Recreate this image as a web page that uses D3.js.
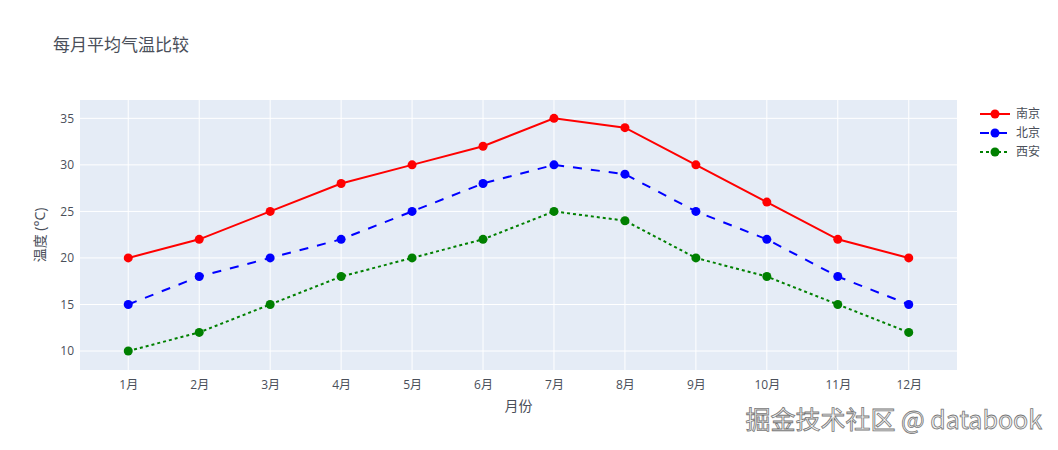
<!DOCTYPE html>
<html>
<head>
<meta charset="utf-8">
<script src="https://cdn.jsdelivr.net/npm/d3@7"></script>
<style>
  body { margin: 0; background: #fff; }
  svg { font-family: "Open Sans", "Noto Sans CJK SC", sans-serif; }
</style>
</head>
<body>
<div id="chart"></div>
<script>
// chart data
const months = ['1月', '2月', '3月', '4月', '5月', '6月', '7月', '8月', '9月', '10月', '11月', '12月'];
const nanjing = [20, 22, 25, 28, 30, 32, 35, 34, 30, 26, 22, 20];
const beijing = [15, 18, 20, 22, 25, 28, 30, 29, 25, 22, 18, 15];
const xian = [10, 12, 15, 18, 20, 22, 25, 24, 20, 18, 15, 12];
const yTicks = [10, 15, 20, 25, 30, 35];

const series = [
    { name: '南京', values: nanjing, color: 'red', dash: null },
    { name: '北京', values: beijing, color: 'blue', dash: '9,9' },
    { name: '西安', values: xian, color: 'green', dash: '3,3' }
];

const width = 1058;
const height = 450;
const margin = { top: 100, right: 101, bottom: 80, left: 80 };
const plotW = width - margin.left - margin.right;
const plotH = height - margin.top - margin.bottom;
const textColor = '#4a4f5a';

const svg = d3.select('#chart')
    .append('svg')
    .attr('width', width)
    .attr('height', height);

// title
svg.append('text')
    .attr('x', 53)
    .attr('y', 51)
    .attr('font-size', 17)
    .attr('fill', textColor)
    .text('每月平均气温比较');

const g = svg.append('g')
    .attr('transform', `translate(${margin.left}, ${margin.top})`);

g.append('rect')
    .attr('width', plotW)
    .attr('height', plotH)
    .attr('fill', '#E5ECF6');

// scales
const xScale = d3.scalePoint()
    .domain(months)
    .range([0, plotW])
    .padding(0.68);

const yScale = d3.scaleLinear()
    .domain([7.96, 36.97])
    .range([plotH, 0]);

// grid
g.selectAll('.x-grid')
    .data(months)
    .enter()
    .append('line')
    .attr('class', 'x-grid')
    .attr('x1', d => xScale(d))
    .attr('x2', d => xScale(d))
    .attr('y1', 0)
    .attr('y2', plotH)
    .attr('stroke', '#fff')
    .attr('stroke-width', 1);

g.selectAll('.y-grid')
    .data(yTicks)
    .enter()
    .append('line')
    .attr('class', 'y-grid')
    .attr('x1', 0)
    .attr('x2', plotW)
    .attr('y1', d => yScale(d))
    .attr('y2', d => yScale(d))
    .attr('stroke', '#fff')
    .attr('stroke-width', 1);

// axes
const xAxis = d3.axisBottom(xScale).tickSize(0).tickPadding(10);
const yAxis = d3.axisLeft(yScale).tickValues(yTicks).tickSize(0).tickPadding(6);

const xG = g.append('g')
    .attr('transform', `translate(0, ${plotH})`)
    .call(xAxis);
const yG = g.append('g').call(yAxis);

[xG, yG].forEach(ax => {
    ax.select('.domain').remove();
    ax.selectAll('text')
        .attr('font-size', 12)
        .attr('fill', textColor)
        .attr('font-family', '"Open Sans", "Noto Sans CJK SC", sans-serif');
});

// axis titles
svg.append('text')
    .attr('x', margin.left + plotW / 2)
    .attr('y', 411)
    .attr('text-anchor', 'middle')
    .attr('font-size', 14)
    .attr('fill', textColor)
    .text('月份');

svg.append('text')
    .attr('transform', `translate(45, ${margin.top + plotH / 2}) rotate(-90)`)
    .attr('text-anchor', 'middle')
    .attr('font-size', 14)
    .attr('fill', textColor)
    .text('温度 (°C)');

// lines and markers
const line = d3.line()
    .x((d, i) => xScale(months[i]))
    .y(d => yScale(d));

series.forEach(s => {
    g.append('path')
        .datum(s.values)
        .attr('d', line)
        .attr('fill', 'none')
        .attr('stroke', s.color)
        .attr('stroke-width', 2)
        .attr('stroke-dasharray', s.dash);

    g.selectAll(null)
        .data(s.values)
        .enter()
        .append('circle')
        .attr('cx', (d, i) => xScale(months[i]))
        .attr('cy', d => yScale(d))
        .attr('r', 4.5)
        .attr('fill', s.color);
});

// legend
const legend = svg.append('g')
    .attr('transform', 'translate(980, 114)');

series.forEach((s, i) => {
    const item = legend.append('g')
        .attr('transform', `translate(0, ${i * 19})`);
    item.append('line')
        .attr('x1', 0)
        .attr('x2', 30)
        .attr('stroke', s.color)
        .attr('stroke-width', 2)
        .attr('stroke-dasharray', s.dash);
    item.append('circle')
        .attr('cx', 15)
        .attr('r', 4.5)
        .attr('fill', s.color);
    item.append('text')
        .attr('x', 36)
        .attr('y', 4)
        .attr('font-size', 12)
        .attr('fill', textColor)
        .text(s.name);
});

// watermark
svg.append('text')
    .attr('x', 1042)
    .attr('y', 429)
    .attr('text-anchor', 'end')
    .attr('font-size', 25)
    .attr('fill', '#f4f4f4')
    .attr('stroke', '#777')
    .attr('stroke-width', 0.8)
    .attr('font-family', '"Noto Sans CJK SC", sans-serif')
    .text('掘金技术社区 @ databook');
</script>
</body>
</html>
